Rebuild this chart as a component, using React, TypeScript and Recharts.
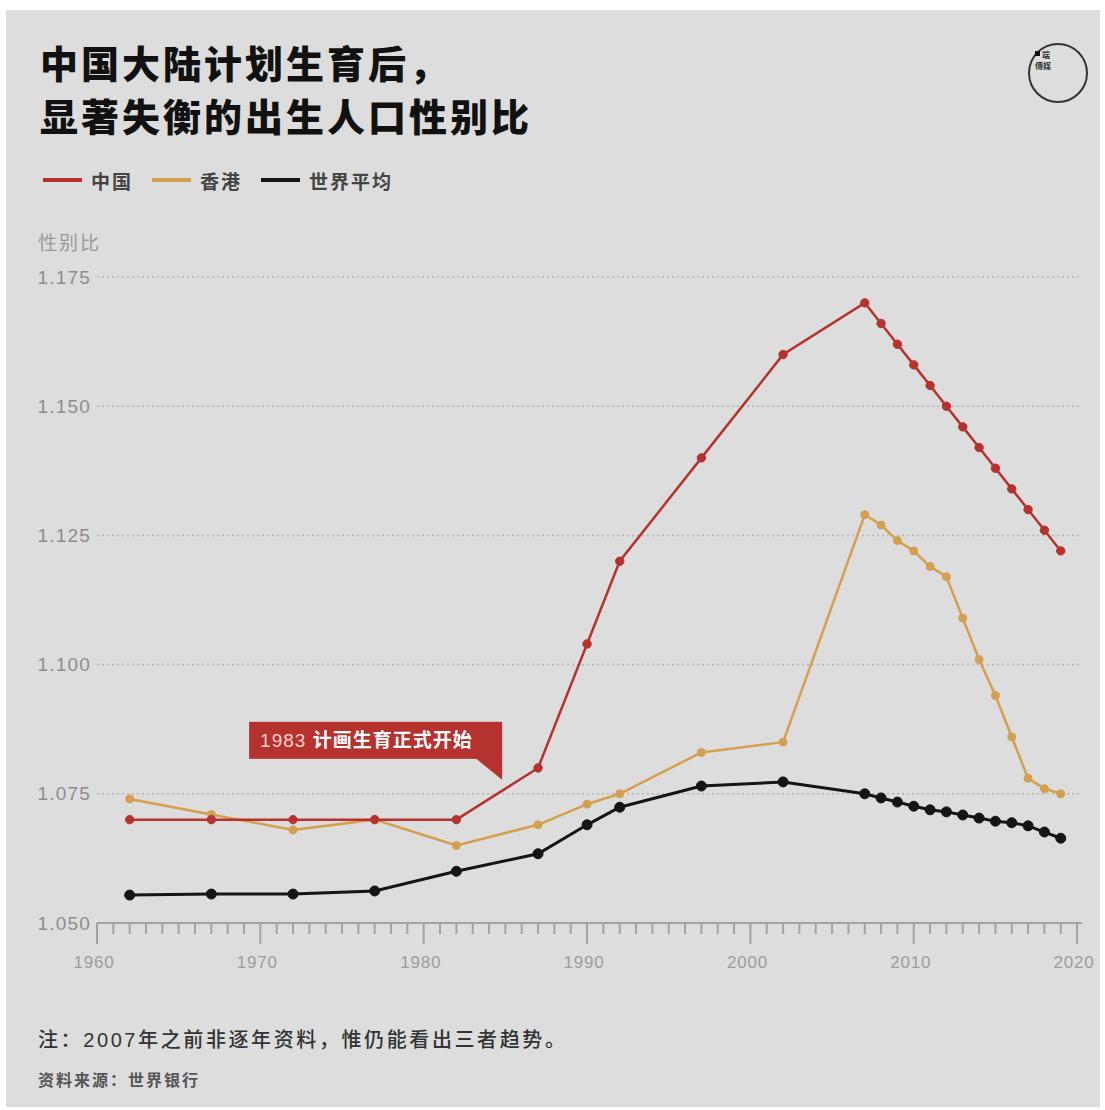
import React from "react";
import {
  LineChart,
  Line,
  XAxis,
  YAxis,
  CartesianGrid,
  ReferenceDot,
} from "recharts";

// years are uneven before 2007, yearly after
const years = [
  1962, 1967, 1972, 1977, 1982, 1987, 1990, 1992, 1997, 2002, 2007, 2008,
  2009, 2010, 2011, 2012, 2013, 2014, 2015, 2016, 2017, 2018, 2019,
];
const china = [
  1.07, 1.07, 1.07, 1.07, 1.07, 1.08, 1.104, 1.12, 1.14, 1.16, 1.17, 1.166,
  1.162, 1.158, 1.154, 1.15, 1.146, 1.142, 1.138, 1.134, 1.13, 1.126, 1.122,
];
const hongKong = [
  1.074, 1.071, 1.068, 1.07, 1.065, 1.069, 1.073, 1.075, 1.083, 1.085, 1.129,
  1.127, 1.124, 1.122, 1.119, 1.117, 1.109, 1.101, 1.094, 1.086, 1.078,
  1.076, 1.075,
];
const world = [
  1.0554, 1.0556, 1.0556, 1.0562, 1.06, 1.0634, 1.069, 1.0724, 1.0765, 1.0773,
  1.075, 1.0742, 1.0734, 1.0726, 1.0719, 1.0715, 1.0709, 1.0703, 1.0697,
  1.0694, 1.0688, 1.0676, 1.0664,
];

const yTicks = [1.05, 1.075, 1.1, 1.125, 1.15, 1.175];
const decadeTicks = [1960, 1970, 1980, 1990, 2000, 2010, 2020];
// minor tick every year on the axis
const yearTicks = Array.from({ length: 61 }, (_, i) => 1960 + i);

const series = [
  { key: "world", name: "世界平均", color: "#151515", width: 3, r: 5 },
  { key: "hk", name: "香港", color: "#d4a04f", width: 2.5, r: 4 },
  { key: "china", name: "中国", color: "#b5322e", width: 2.5, r: 4.2 },
];
const legendOrder = ["china", "hk", "world"];

const data = years.map((year, i) => ({
  year,
  china: china[i],
  hk: hongKong[i],
  world: world[i],
}));

const FONT = "'Liberation Sans', 'Noto Sans CJK SC', sans-serif";
const CJK = "'Noto Sans CJK SC', sans-serif";

const XTick = (props: any) => {
  const { x, y, payload } = props;
  const v = payload.value as number;
  const major = decadeTicks.includes(v);
  return (
    <g>
      <line
        x1={x}
        x2={x}
        y1={y}
        y2={y + (major ? 21 : 11)}
        stroke="#a3a3a3"
        strokeWidth={2}
      />
      {major && (
        <text
          x={x - 3}
          y={y + 45}
          textAnchor="middle"
          fontSize={17}
          fill="#9c9c9c"
          fontFamily={FONT}
          letterSpacing={0.8}
        >
          {v}
        </text>
      )}
    </g>
  );
};

const YTick = (props: any) => {
  const { x, y, payload } = props;
  return (
    <text
      x={x}
      y={y}
      dy="0.35em"
      textAnchor="end"
      fontSize={19}
      fill="#8d8d8d"
      fontFamily={FONT}
      letterSpacing={1.2}
    >
      {(payload.value as number).toFixed(3)}
    </text>
  );
};

// callout for 1983, tip sits on the anchor point
const Callout = (props: any) => {
  const { cx, cy } = props;
  const red = "#b5322e";
  return (
    <g>
      <rect x={cx - 253} y={cy - 58} width={253} height={37} fill={red} />
      <polygon
        points={`${cx - 27},${cy - 22} ${cx},${cy - 22} ${cx},${cy}`}
        fill={red}
      />
      <text
        x={cx - 242}
        y={cy - 33}
        fill="#fff"
        fontSize={19}
        fontFamily={FONT}
        letterSpacing={1}
      >
        <tspan fontWeight={400} fill="#f1d2cf">
          1983{" "}
        </tspan>
        <tspan fontWeight={700} fontFamily={CJK}>
          计画生育正式开始
        </tspan>
      </text>
    </g>
  );
};

const App = () => {
  return (
    <div
      style={{
        position: "absolute",
        left: 0,
        top: 0,
        width: 1105,
        height: 1110,
        background: "#ffffff",
        fontFamily: FONT,
      }}
    >
      <div
        style={{
          position: "absolute",
          left: 6,
          top: 10,
          width: 1094,
          height: 1097,
          background: "#dddddd",
        }}
      />
      <div
        style={{
          position: "absolute",
          left: 40,
          top: 35,
          fontFamily: CJK,
          fontWeight: 900,
          fontSize: 38,
          lineHeight: "53px",
          letterSpacing: 3,
          color: "#111",
        }}
      >
        <div>中国大陆计划生育后，</div>
        <div>显著失衡的出生人口性别比</div>
      </div>

      <svg
        style={{ position: "absolute", left: 1020, top: 38 }}
        width={76}
        height={76}
      >
        <circle cx={38} cy={35} r={29} fill="none" stroke="#333" strokeWidth={2} />
        <rect x={15} y={13} width={5} height={5} fill="#111" />
        <text x={22} y={20} fontSize={8} fontWeight={700} fill="#333" fontFamily={CJK}>
          端
        </text>
        <text x={15} y={31} fontSize={8} fontWeight={700} fill="#333" fontFamily={CJK}>
          傳媒
        </text>
      </svg>

      <div
        style={{
          position: "absolute",
          left: 43,
          top: 166,
          display: "flex",
          alignItems: "center",
          height: 28,
        }}
      >
        {legendOrder.map((k) => {
          const s = series.find((d) => d.key === k)!;
          return (
            <div
              key={k}
              style={{ display: "flex", alignItems: "center", marginRight: 19 }}
            >
              <span
                style={{
                  display: "inline-block",
                  width: 39,
                  height: 4,
                  background: s.color,
                  marginRight: 9,
                }}
              />
              <span
                style={{
                  fontFamily: CJK,
                  fontSize: 19,
                  fontWeight: 700,
                  color: "#444",
                  letterSpacing: 2,
                }}
              >
                {s.name}
              </span>
            </div>
          );
        })}
      </div>

      <div
        style={{
          position: "absolute",
          left: 38,
          top: 228,
          fontFamily: CJK,
          fontSize: 19,
          color: "#9a9a9a",
          letterSpacing: 2,
        }}
      >
        性别比
      </div>

      <div style={{ position: "absolute", left: 0, top: 0 }}>
        <LineChart
          width={1105}
          height={1110}
          data={data}
          margin={{ top: 277, right: 23, bottom: 127, left: 37 }}
        >
          <CartesianGrid
            horizontal
            vertical={false}
            stroke="#b3b3b3"
            strokeDasharray="2 3"
            strokeWidth={1.5}
          />
          <XAxis
            dataKey="year"
            type="number"
            domain={[1960, 2020.3]}
            allowDataOverflow
            ticks={yearTicks}
            interval={0}
            height={60}
            axisLine={{ stroke: "#a3a3a3", strokeWidth: 2 }}
            tickLine={false}
            tickSize={0}
            tickMargin={0}
            tick={<XTick />}
          />
          <YAxis
            type="number"
            domain={[1.05, 1.175]}
            ticks={yTicks}
            width={60}
            axisLine={false}
            tickLine={false}
            tickSize={0}
            tickMargin={6}
            tick={<YTick />}
          />
          <ReferenceDot
            x={1984.8}
            y={1.0777}
            r={0}
            ifOverflow="visible"
            shape={<Callout />}
          />
          {series.map((s) => (
            <Line
              key={s.key}
              type="linear"
              dataKey={s.key}
              name={s.name}
              stroke={s.color}
              strokeWidth={s.width}
              dot={{ r: s.r, fill: s.color, stroke: s.color, strokeWidth: 1 }}
              activeDot={false}
              isAnimationActive={false}
            />
          ))}
        </LineChart>
      </div>

      <div
        style={{
          position: "absolute",
          left: 38,
          top: 1024,
          fontFamily: FONT,
          fontSize: 20,
          fontWeight: 500,
          color: "#333",
          letterSpacing: 2.6,
        }}
      >
        注：2007年之前非逐年资料，惟仍能看出三者趋势。
      </div>
      <div
        style={{
          position: "absolute",
          left: 38,
          top: 1067,
          fontFamily: CJK,
          fontSize: 16,
          fontWeight: 700,
          color: "#555",
          letterSpacing: 2,
        }}
      >
        资料来源：世界银行
      </div>
    </div>
  );
};

export default App;
